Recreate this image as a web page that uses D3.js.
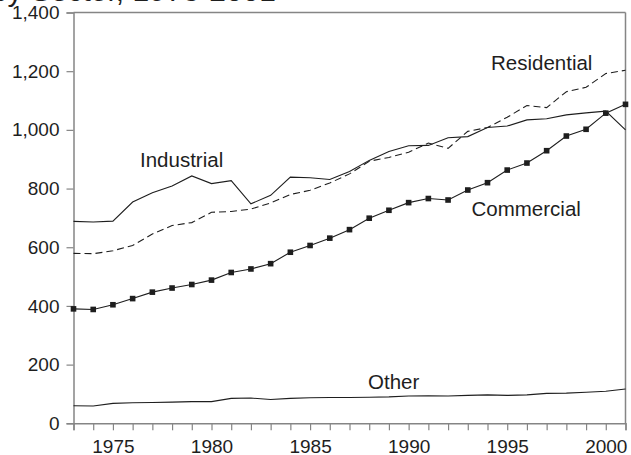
<!DOCTYPE html>
<html>
<head>
<meta charset="utf-8">
<script src="https://cdn.jsdelivr.net/npm/d3@7"></script>
<style>
  html, body { margin: 0; padding: 0; background: #fff; }
  svg { display: block; font-family: "Liberation Sans", Arial, sans-serif; }
</style>
</head>
<body>
<svg id="chart" width="631" height="455"></svg>
<script>
// Retail electricity sales by sector, billion kWh
const years = d3.range(1973, 2002);
const residential = [579, 578, 588, 606, 645, 674, 684, 719, 722, 730, 751, 780, 794, 819, 850, 893, 906, 924, 955, 937, 995, 1008, 1043, 1083, 1076, 1130, 1145, 1192, 1203];
const commercial  = [390, 388, 404, 425, 447, 461, 473, 488, 514, 526, 544, 583, 606, 631, 660, 699, 726, 752, 766, 761, 795, 820, 863, 887, 929, 979, 1002, 1057, 1087];
const industrial  = [688, 686, 689, 754, 786, 809, 843, 817, 827, 748, 777, 839, 837, 831, 858, 896, 926, 946, 947, 973, 977, 1008, 1013, 1034, 1038, 1051, 1058, 1064, 1000];
const other       = [60, 59, 68, 70, 71, 72, 74, 74, 85, 86, 81, 85, 87, 88, 88, 89, 90, 93, 94, 93, 95, 97, 95, 97, 102, 103, 106, 109, 117];
const yTicks = [0, 200, 400, 600, 800, 1000, 1200, 1400];
const xTickLabels = [1975, 1980, 1985, 1990, 1995, 2000];

const svg = d3.select("#chart");
const ink = "#1e1e1e";
const axisGray = "#858585";

const x = d3.scaleLinear().domain([1973, 2001]).range([73.5, 625.5]);
const y = d3.scaleLinear().domain([0, 1400]).range([423.3, 12.5]);

// title, running off the top edge
svg.append("text")
  .attr("x", 276).attr("y", 0.5)
  .attr("text-anchor", "end")
  .attr("font-size", 30)
  .attr("fill", ink)
  .text("Electricity Retail Sales by Sector, 1973-2001");

// frame: top and right borders
svg.append("line")
  .attr("x1", x(1973)).attr("x2", x(2001))
  .attr("y1", y(1400)).attr("y2", y(1400))
  .attr("stroke", axisGray).attr("stroke-width", 1.5);
svg.append("line")
  .attr("x1", x(2001)).attr("x2", x(2001))
  .attr("y1", y(1400)).attr("y2", y(0))
  .attr("stroke", axisGray).attr("stroke-width", 1.5);

// y axis
const yAxis = d3.axisLeft(y)
  .tickValues(yTicks)
  .tickFormat(d3.format(","))
  .tickSize(7).tickPadding(7);
const gy = svg.append("g").attr("transform", `translate(${x(1973)},0)`).call(yAxis);
gy.select(".domain").attr("stroke", axisGray).attr("stroke-width", 1.5);
gy.selectAll(".tick line").attr("stroke", axisGray).attr("stroke-width", 1.2);
gy.selectAll(".tick text").attr("font-size", 19).attr("fill", ink)
  .attr("font-family", "Liberation Sans, Arial, sans-serif");

// x axis: a tick every year, labels every five
const xAxis = d3.axisBottom(x)
  .tickValues(years)
  .tickFormat(d => xTickLabels.includes(d) ? String(d) : "")
  .tickSize(7).tickPadding(9);
const gx = svg.append("g").attr("transform", `translate(0,${y(0)})`).call(xAxis);
gx.select(".domain").attr("stroke", axisGray).attr("stroke-width", 1.5);
gx.selectAll(".tick line").attr("stroke", axisGray).attr("stroke-width", 1.2);
gx.selectAll(".tick text").attr("font-size", 19).attr("fill", ink)
  .attr("font-family", "Liberation Sans, Arial, sans-serif");

const line = d3.line().x((d, i) => x(years[i])).y(d => y(d));

function drawSeries(values, dash) {
  svg.append("path")
    .datum(values)
    .attr("d", line)
    .attr("fill", "none")
    .attr("stroke", ink)
    .attr("stroke-width", 1.1)
    .attr("stroke-dasharray", dash || null);
}

drawSeries(other);
drawSeries(residential, "7,4");
drawSeries(industrial);
drawSeries(commercial);

// square markers on the commercial series
svg.append("g").selectAll("rect")
  .data(commercial)
  .join("rect")
  .attr("x", (d, i) => x(years[i]) - 2.8)
  .attr("y", d => y(d) - 2.8)
  .attr("width", 5.6).attr("height", 5.6)
  .attr("fill", ink);

// series labels
const labels = [
  { text: "Industrial", x: 140, y: 167 },
  { text: "Residential", x: 491, y: 69.5 },
  { text: "Commercial", x: 471.5, y: 215.5 },
  { text: "Other", x: 368, y: 389 }
];
svg.append("g").selectAll("text")
  .data(labels)
  .join("text")
  .attr("x", d => d.x).attr("y", d => d.y)
  .attr("font-size", 20.5)
  .attr("fill", ink)
  .text(d => d.text);
</script>
</body>
</html>
